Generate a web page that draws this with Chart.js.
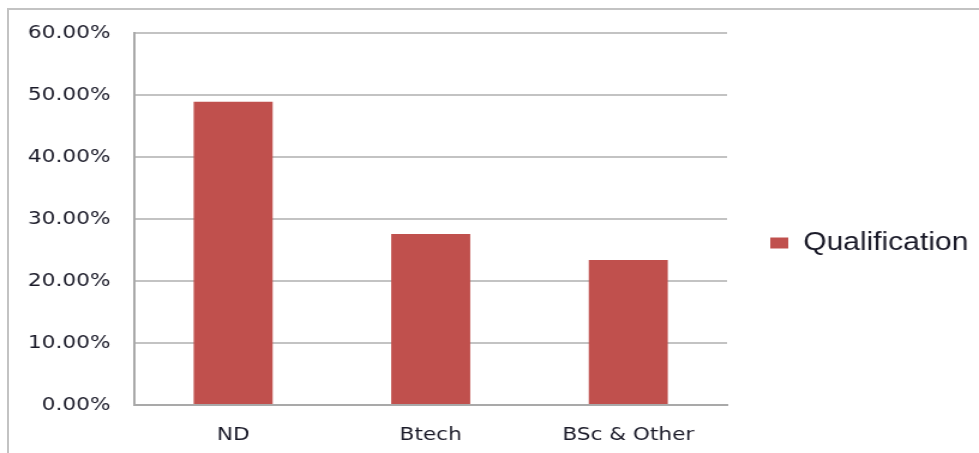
<!DOCTYPE html>
<html>
<head>
<meta charset="utf-8">
<script src="https://cdn.jsdelivr.net/npm/chart.js@4/dist/chart.umd.min.js"></script>
<style>
  html, body { margin: 0; padding: 0; background: #fff; }
  body { width: 979px; height: 453px; overflow: hidden; position: relative; }
  #frame {
    position: absolute; left: 7px; top: 8px; width: 972px; height: 445px;
    border-top: 2px solid #c3c3c3; border-left: 2px solid #c3c3c3;
    box-sizing: border-box;
  }
  /* the chart is laid out at 816px wide and widened to fill the page */
  #wrap {
    position: absolute; left: 0; top: 0; width: 816px; height: 453px;
    transform: scaleX(1.19975); transform-origin: 0 0;
  }
</style>
</head>
<body>
<div id="frame"></div>
<div id="wrap"><canvas id="chart"></canvas></div>
<script>
// Share of respondents by qualification (percent)
const categories = ['ND', 'Btech', 'BSc & Other'];
const qualification = [48.9, 27.6, 23.4];
const seriesName = 'Qualification';
const yTicks = [0, 10, 20, 30, 40, 50, 60];

const tickFont = { family: '"DejaVu Sans", Verdana, sans-serif', size: 18 };
const ink = '#1a1a28';

new Chart(document.getElementById('chart'), {
  type: 'bar',
  data: {
    labels: categories,
    datasets: [{
      label: seriesName,
      data: qualification,
      backgroundColor: '#c0504d',
      borderWidth: 0,
      barPercentage: 0.4,
      categoryPercentage: 1.0
    }]
  },
  options: {
    responsive: true,
    maintainAspectRatio: false,
    animation: false,
    devicePixelRatio: 1,
    layout: { padding: { top: 33, right: 8, bottom: 0, left: 0 } },
    plugins: {
      tooltip: { enabled: false },
      legend: {
        position: 'right',
        align: 'center',
        labels: {
          boxWidth: 15,
          boxHeight: 11,
          padding: 36,
          color: ink,
          font: { family: '"Liberation Sans", Arial, sans-serif', size: 25 }
        }
      }
    },
    scales: {
      x: {
        grid: { display: false, drawTicks: false },
        border: { display: true, color: '#a9a9a9', width: 2 },
        ticks: { color: ink, font: tickFont, padding: 20 },
        afterFit: (s) => { s.height = 48; }
      },
      y: {
        min: yTicks[0],
        max: yTicks[yTicks.length - 1],
        afterBuildTicks: (s) => { s.ticks = yTicks.map(v => ({ value: v })); },
        grid: { color: '#c3c3c3', lineWidth: 2, drawTicks: false },
        border: { display: true, color: '#a9a9a9', width: 2 },
        ticks: {
          color: ink,
          font: tickFont,
          padding: 20,
          callback: (v) => Number(v).toFixed(2) + '%'
        },
        afterFit: (s) => { s.width = 112; }
      }
    }
  }
});
</script>
</body>
</html>
